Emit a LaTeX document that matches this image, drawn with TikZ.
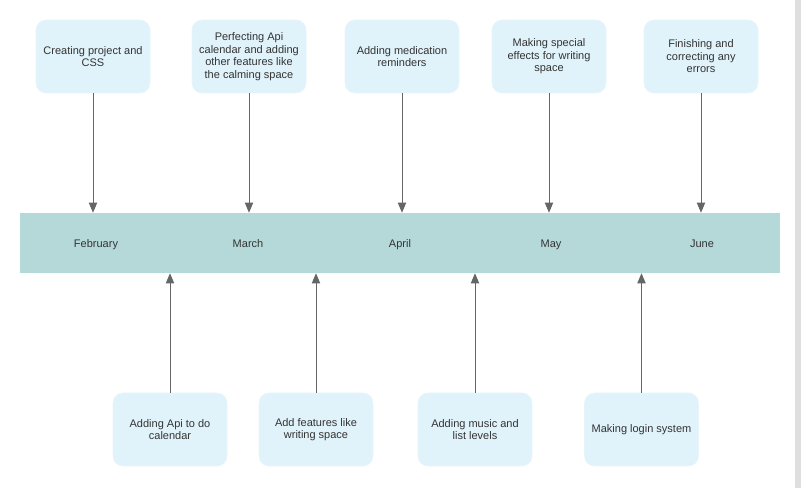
\documentclass[tikz,border=0pt]{standalone}
\usepackage{fontspec}
\setmainfont{Liberation Sans}
\usepackage{xcolor}
\usetikzlibrary{arrows, positioning}
\definecolor{boxfill}{HTML}{E1F3FA}
\definecolor{barfill}{HTML}{B5D9D9}
\definecolor{linegray}{HTML}{666666}
\definecolor{textgray}{HTML}{333333}

\begin{document}
\begin{tikzpicture}[
    x=0.75pt, y=-0.75pt,
    task/.style={rectangle, rounded corners=7.5pt, fill=boxfill, draw=boxfill!80!white, minimum width=85.5pt, minimum height=54.75pt, inner sep=0pt, align=center, font=\fontsize{8.25}{9.4}\selectfont, text=textgray},
    month/.style={font=\fontsize{8.25}{9.4}\selectfont, text=textgray, text height=1.6ex, text depth=0.4ex, inner sep=0pt},
    arrow/.style={-triangle 45, draw=linegray, line width=0.75pt}
]
    \useasboundingbox (0,0) rectangle (801,488);
    \fill [gray!25] (795,0) rectangle (801,488);

    % Timeline
    \node [rectangle, fill=barfill, minimum width=570pt, minimum height=45pt, inner sep=0pt] (bar) at (400,243) {};
    \node [month] (feb) at (96,243.5) {February};
    \node [month] (mar) at (248,243.5) {March};
    \node [month] (apr) at (400,243.5) {April};
    \node [month] (may) at (551,243.5) {May};
    \node [month] (jun) at (702,243.5) {June};

    % Top tasks
    \node [task] (t1) at (93,56.5) {Creating project and\\CSS};
    \node [task] (t2) at (249,56.5) {Perfecting Api\\calendar and adding\\other features like\\the calming space};
    \node [task] (t3) at (402,56.5) {Adding medication\\reminders};
    \node [task] (t4) at (549,56.5) {Making special\\effects for writing\\space};
    \node [task] (t5) at (701,56.5) {Finishing and\\correcting any\\errors};

    % Bottom tasks
    \node [task] (b1) at (170,429.5) {Adding Api to do\\calendar};
    \node [task] (b2) at (316,429.5) {Add features like\\writing space};
    \node [task] (b3) at (475,429.5) {Adding music and\\list levels};
    \node [task] (b4) at (641.5,429.5) {Making login system};

    % Arrows
    \draw [arrow] (t1) -- (t1 |- bar.north);
    \draw [arrow] (t2) -- (t2 |- bar.north);
    \draw [arrow] (t3) -- (t3 |- bar.north);
    \draw [arrow] (t4) -- (t4 |- bar.north);
    \draw [arrow] (t5) -- (t5 |- bar.north);
    \draw [arrow] (b1) -- (b1 |- bar.south);
    \draw [arrow] (b2) -- (b2 |- bar.south);
    \draw [arrow] (b3) -- (b3 |- bar.south);
    \draw [arrow] (b4) -- (b4 |- bar.south);
\end{tikzpicture}
\end{document}
